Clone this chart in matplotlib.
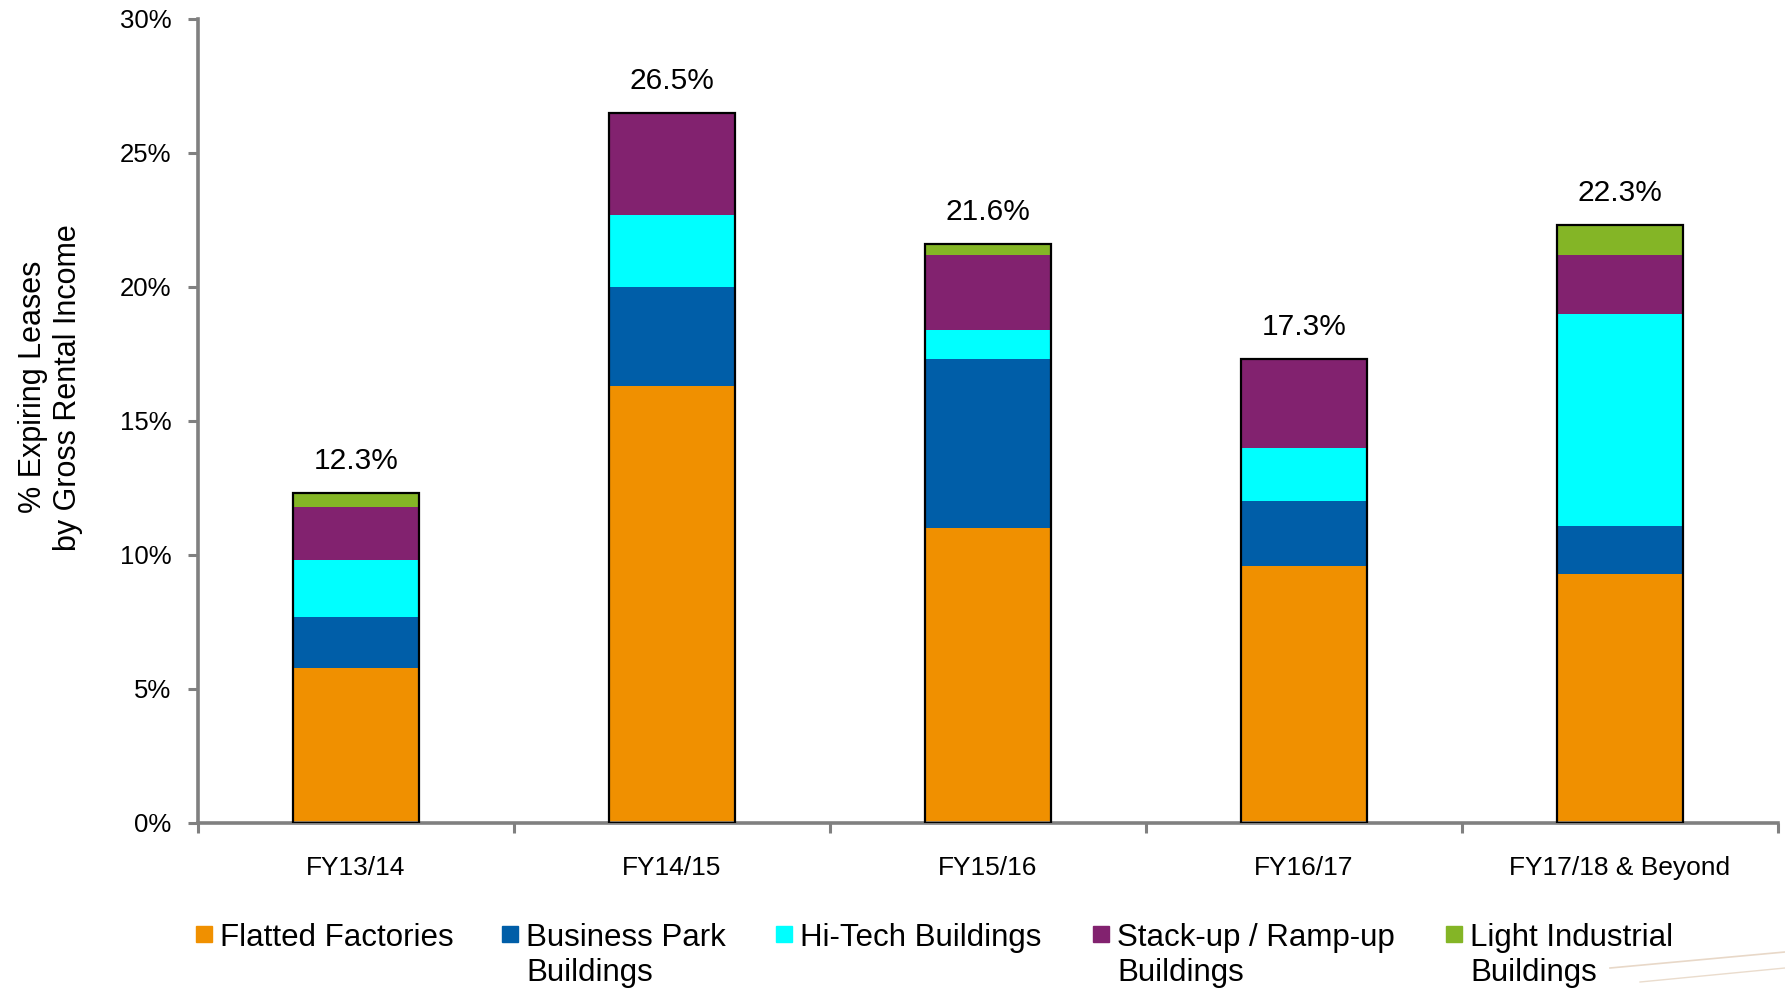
import numpy as np
import matplotlib.pyplot as plt
from matplotlib.patches import Rectangle

plt.rcParams['font.family'] = ['Liberation Sans', 'DejaVu Sans']

# Lease expiry profile by financial year, % of gross rental income
years = ["FY13/14", "FY14/15", "FY15/16", "FY16/17", "FY17/18 & Beyond"]
flatted = [5.8, 16.3, 11.0, 9.6, 9.3]
business_park = [1.9, 3.7, 6.3, 2.4, 1.8]
hi_tech = [2.1, 2.7, 1.1, 2.0, 7.9]
stack_up = [2.0, 3.8, 2.8, 3.3, 2.2]
light_ind = [0.5, 0.0, 0.4, 0.0, 1.1]

series = [
    ("Flatted Factories", flatted, "#F09000"),
    ("Business Park\nBuildings", business_park, "#005EA8"),
    ("Hi-Tech Buildings", hi_tech, "#00FFFF"),
    ("Stack-up / Ramp-up\nBuildings", stack_up, "#82226F"),
    ("Light Industrial\nBuildings", light_ind, "#84B526"),
]

W, H = 1785, 989
fig = plt.figure(figsize=(W / 100, H / 100), dpi=100)
ax = fig.add_axes([198 / W, 1 - 823 / H, (1778 - 198) / W, (823 - 19) / H])

x = np.arange(len(years))
width = 0.4
bottom = np.zeros(len(years))
for name, vals, col in series:
    vals = np.array(vals)
    ax.bar(x, vals, width, bottom=bottom, color=col, edgecolor="none", zorder=2)
    bottom += vals

# outline around each stack + total label
totals = bottom
ax.bar(x, totals, width, fill=False, edgecolor="black", linewidth=1.6, zorder=3)
for xi, t in zip(x, totals):
    ax.annotate(f"{t:.1f}%", (xi, t), xytext=(0, 13), textcoords="offset points",
                ha="center", va="bottom", fontsize=21.5)

ax.set_xlim(-0.5, len(years) - 0.5)
ax.set_ylim(0, 30)
ax.set_yticks(np.arange(0, 31, 5))
ax.set_yticklabels([f"{v}%" for v in range(0, 31, 5)])

# boundary ticks on x, labels centred under bars
ax.set_xticks(np.arange(-0.5, len(years), 1.0))
ax.set_xticklabels([])
ax.set_xticks(x, minor=True)
ax.set_xticklabels(years, minor=True)
ax.tick_params(axis="x", which="minor", length=0, pad=24, labelsize=19)
ax.tick_params(axis="x", which="major", length=7, width=2.2, color="#808080", direction="out")
ax.tick_params(axis="y", length=7, width=2.2, color="#808080", direction="out",
               pad=12, labelsize=18.5)

for s in ["top", "right"]:
    ax.spines[s].set_visible(False)
for s in ["left", "bottom"]:
    ax.spines[s].set_color("#808080")
    ax.spines[s].set_linewidth(2.6)

ax.set_ylabel("% Expiring Leases\nby Gross Rental Income", fontsize=22, linespacing=1.2)
ax.yaxis.set_label_coords(-0.073, 0.542)

# legend row along the bottom
leg_x = [196, 502, 776, 1093, 1446]
sq = 16
for (name, vals, col), lx in zip(series, leg_x):
    fig.patches.append(Rectangle((lx / W, 1 - 942 / H), sq / W, sq / H,
                                 transform=fig.transFigure, color=col))
    fig.text((lx + 24) / W, 1 - 923 / H, name, fontsize=22.5, va="top", ha="left",
             linespacing=1.22)

# faint decorative strokes at lower right
fig.add_artist(plt.Line2D([1610 / W, 1785 / W], [1 - 968 / H, 1 - 952 / H],
                          transform=fig.transFigure, color="#E8D8C8", lw=1.2))
fig.add_artist(plt.Line2D([1640 / W, 1785 / W], [1 - 982 / H, 1 - 968 / H],
                          transform=fig.transFigure, color="#EADCCD", lw=1.0))

fig.savefig("out.png", dpi=100)
